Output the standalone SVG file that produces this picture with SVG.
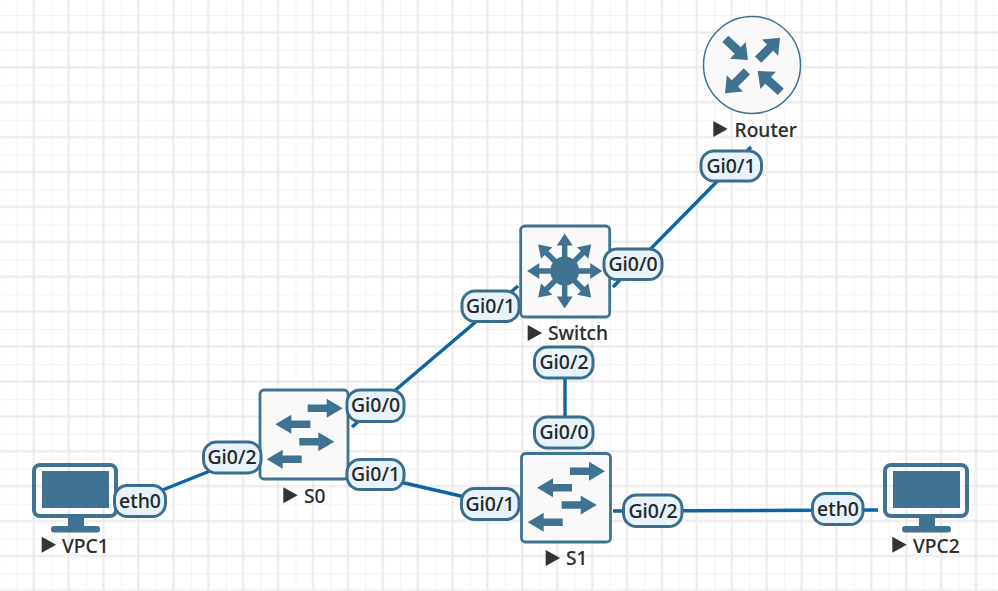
<svg xmlns="http://www.w3.org/2000/svg" xmlns:xlink="http://www.w3.org/1999/xlink" width="998" height="591" viewBox="0 0 998 591">
<style>
.grid{fill:none;stroke:#efeff2;stroke-width:1.4}
.gridb{fill:none;stroke:#e9e9ed;stroke-width:1.9}
.link{fill:none;stroke:#0b64a6;stroke-width:3.4}
.pill{fill:#e8f4fd;stroke:#3b6e8c;stroke-width:3}
.plab{font:500 19.4px "Noto Sans","DejaVu Sans",sans-serif;fill:#262626;stroke:#262626;stroke-width:.12;text-anchor:middle}
.name{font:500 19.2px "Noto Sans","DejaVu Sans",sans-serif;fill:#2e2e2e;stroke:#2e2e2e;stroke-width:.12}
.tri{fill:#333}
.box{fill:#f9f9f9;stroke:#3f7391;stroke-width:2.8}
.ico{fill:#3f7391}
.mon{fill:none;stroke:#3f7391;stroke-width:4}
</style>
<defs>
<pattern id="g" width="34.9" height="34.9" patternUnits="userSpaceOnUse" patternTransform="translate(16.3 15)">
<path class="grid" d="M0,0V34.9M0,0H34.9"/>
<path class="gridb" d="M17.45,0V34.9M0,17.45H34.9"/>
</pattern>
<path id="ar" class="ico" d="M0,0L-16,-9.5V-3.8H-35V3.8H-16V9.5Z"/>
<path id="ar2" class="ico" d="M0,0L-14,-11.5V-4.4H-31V4.4H-14V11.5Z"/>
<path id="ar3" class="ico" d="M37.5,0L25.5,-8V-2.7H10V2.7H25.5V8Z"/>
<path id="tr" class="tri" d="M0,0L14.4,8L0,16Z"/>
<g id="pc">
<rect class="mon" x="2" y="2" width="82" height="51" rx="6"/>
<rect class="ico" x="10" y="8" width="67" height="37"/>
<rect class="ico" x="36" y="53" width="16" height="11"/>
<rect class="ico" x="19" y="63" width="49" height="6.5" rx="3"/>
</g>
</defs>
<rect width="998" height="591" fill="#fff"/>
<rect width="998" height="591" fill="url(#g)"/>

<g id="connectors">
<path class="link" d="M751,147L613,287"/>
<path class="link" d="M518,286L352,427"/>
<path class="link" d="M210,471L160,491"/>
<path class="link" d="M400,482L465,497"/>
<path class="link" d="M565,378V417"/>
<path class="link" d="M613,511L878,510"/>
</g>

<g id="router">
<circle cx="752" cy="65" r="48.5" fill="#f9f9f9" stroke="#3f7391" stroke-width="1.5"/>
<use href="#ar2" transform="translate(748 60) rotate(43)"/>
<use href="#ar2" transform="translate(780 37.7) rotate(-45)"/>
<use href="#ar2" transform="translate(725 93.3) rotate(135)"/>
<use href="#ar2" transform="translate(757.7 71) rotate(222)"/>
<use href="#tr" x="713.3" y="121"/>
<text class="name" x="734.5" y="136.5">Router</text>
</g>

<g id="switch">
<rect class="box" x="520.7" y="226" width="89" height="91" rx="4"/>
<circle class="ico" cx="564.7" cy="271" r="14.5"/>
<use href="#ar3" transform="translate(564.7 271)"/>
<use href="#ar3" transform="translate(564.7 271) rotate(45)"/>
<use href="#ar3" transform="translate(564.7 271) rotate(90)"/>
<use href="#ar3" transform="translate(564.7 271) rotate(135)"/>
<use href="#ar3" transform="translate(564.7 271) rotate(180)"/>
<use href="#ar3" transform="translate(564.7 271) rotate(225)"/>
<use href="#ar3" transform="translate(564.7 271) rotate(270)"/>
<use href="#ar3" transform="translate(564.7 271) rotate(315)"/>
<use href="#tr" x="527.7" y="325"/>
<text class="name" x="548" y="340">Switch</text>
</g>

<g id="s0">
<rect class="box" x="260" y="390" width="88" height="89" rx="4"/>
<use href="#ar" transform="translate(342.7 408.3)"/>
<use href="#ar" transform="translate(275.3 424.3) rotate(180)"/>
<use href="#ar" transform="translate(334.3 441.7)"/>
<use href="#ar" transform="translate(266.7 459.3) rotate(180)"/>
<use href="#tr" x="283.3" y="487.3"/>
<text class="name" x="304" y="502.7">S0</text>
</g>

<g id="s1">
<rect class="box" x="521.5" y="453.5" width="89" height="88.5" rx="4"/>
<use href="#ar" transform="translate(605 471.3)"/>
<use href="#ar" transform="translate(537 487.7) rotate(180)"/>
<use href="#ar" transform="translate(596.7 505)"/>
<use href="#ar" transform="translate(527.7 522.3) rotate(180)"/>
<use href="#tr" x="545.7" y="550"/>
<text class="name" x="566" y="565">S1</text>
</g>

<g id="vpc1">
<use href="#pc" x="32" y="463"/>
<use href="#tr" x="41.7" y="536.7"/>
<text class="name" x="62" y="552.7">VPC1</text>
</g>

<g id="vpc2">
<use href="#pc" x="883" y="463"/>
<use href="#tr" x="892.3" y="536.7"/>
<text class="name" x="913" y="552.7">VPC2</text>
</g>

<g id="labels">
<rect class="pill" x="701" y="151" width="60.5" height="30" rx="13"/><text class="plab" x="731" y="172.5">Gi0/1</text>
<rect class="pill" x="604" y="249" width="58" height="30.5" rx="13"/><text class="plab" x="633" y="270.5">Gi0/0</text>
<rect class="pill" x="462" y="291" width="57" height="30.5" rx="13"/><text class="plab" x="490.5" y="312.5">Gi0/1</text>
<rect class="pill" x="534.5" y="347" width="58.5" height="31" rx="13"/><text class="plab" x="564" y="368.5">Gi0/2</text>
<rect class="pill" x="347" y="390" width="57" height="31.5" rx="13"/><text class="plab" x="375.5" y="412">Gi0/0</text>
<rect class="pill" x="203.5" y="442" width="57.5" height="31" rx="13"/><text class="plab" x="232" y="464">Gi0/2</text>
<rect class="pill" x="347" y="459.5" width="57" height="30" rx="13"/><text class="plab" x="375.5" y="481">Gi0/1</text>
<rect class="pill" x="114.5" y="485.5" width="51" height="31" rx="13"/><text class="plab" x="140" y="507.5">eth0</text>
<rect class="pill" x="534.5" y="417" width="58.5" height="31" rx="13"/><text class="plab" x="564" y="438.5">Gi0/0</text>
<rect class="pill" x="461.5" y="488.5" width="57.5" height="31" rx="13"/><text class="plab" x="490" y="510.5">Gi0/1</text>
<rect class="pill" x="623.5" y="495" width="58.5" height="31.5" rx="13"/><text class="plab" x="653" y="517.5">Gi0/2</text>
<rect class="pill" x="812.5" y="493.5" width="50.5" height="31" rx="13"/><text class="plab" x="838" y="515.5">eth0</text>
</g>
</svg>
